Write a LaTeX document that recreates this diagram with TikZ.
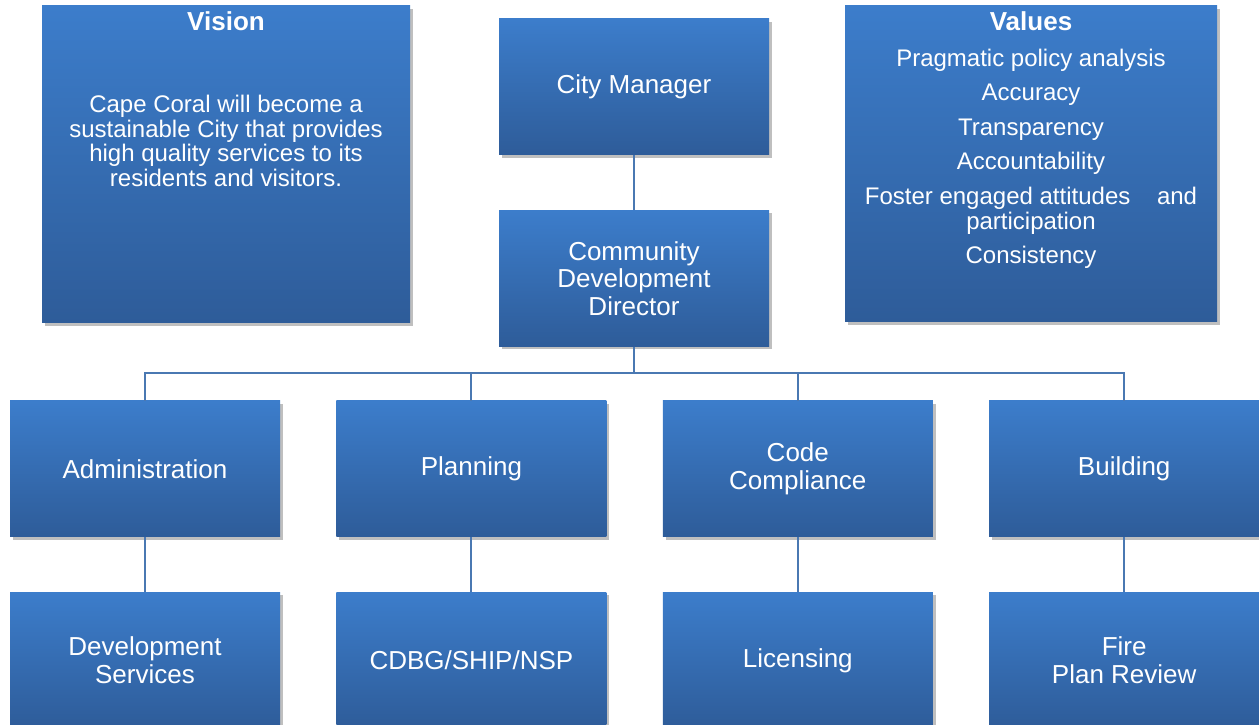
\documentclass[tikz,border=0pt]{standalone}
\usepackage{fontspec}
\setmainfont{Liberation Sans}
\usetikzlibrary{positioning,shadows}
\definecolor{boxtop}{HTML}{3C7DCB}
\definecolor{boxbot}{HTML}{2E5C99}
\definecolor{linkc}{HTML}{4A78B2}

\begin{document}
\begin{tikzpicture}[x=1pt, y=1pt,
  box/.style={rectangle, top color=boxtop, bottom color=boxbot, draw=none, minimum width=270pt, minimum height=136pt, inner sep=2pt, align=center, text=white, font=\fontsize{26}{27.5}\selectfont, drop shadow={shadow xshift=3pt, shadow yshift=-3pt, fill=black, opacity=0.25}},
  panel/.style={box, font=\fontsize{24}{25}\selectfont},
  title/.style={text=white, font=\bfseries\fontsize{26}{28}\selectfont, inner sep=0pt},
  body/.style={text=white, align=center, font=\fontsize{24}{24.7}\selectfont, inner sep=0pt},
  link/.style={draw=linkc, line width=2pt}
]
\useasboundingbox (0,0) rectangle (1259,725);

% side panels
\node[panel, minimum width=368pt, minimum height=317pt] (vision) at (226,560.5) {};
\node[title] (vision-t) at (226,704) {Vision};
\node[body] (vision-b) at (226,584) {Cape Coral will become a\\sustainable City that provides\\high quality services to its\\residents and visitors.};

\node[panel, minimum width=372pt, minimum height=316pt] (values) at (1031,561) {};
\node[title] (values-t) at (1031,704) {Values};
\node[body, font=\fontsize{24}{25}\selectfont] (values-b) at (1031,566) {Pragmatic policy analysis\\[9.5pt]
  Accuracy\\[9.5pt]
  Transparency\\[9.5pt]
  Accountability\\[9.5pt]
  Foster engaged attitudes\hspace{20pt} and\\participation\\[9.5pt]
  Consistency};

% chain of command
\node[box] (cm) at (634,638) {City Manager};
\node[box, below=55pt of cm] (cdd) {Community\\Development\\Director};

\node[box] (adm) at (145,256) {Administration};
\node[box, right=56pt of adm] (pln) {Planning};
\node[box, right=56pt of pln] (code) {Code\\Compliance};
\node[box, right=56pt of code] (bld) {Building};

\node[box, below=55pt of adm] (dev) {Development\\Services};
\node[box, below=55pt of pln] (cdbg) {CDBG/SHIP/NSP};
\node[box, below=55pt of code] (lic) {Licensing};
\node[box, below=55pt of bld] (fire) {Fire\\Plan Review};

\coordinate (bus) at (634,352);

% connectors
\draw[link] (cm) -- (cdd);
\draw[link] (cdd.south) -- (bus);
\foreach \n in {adm,pln,code,bld}
  \draw[link] (bus) -| (\n.north);
\draw[link] (adm) -- (dev);
\draw[link] (pln) -- (cdbg);
\draw[link] (code) -- (lic);
\draw[link] (bld) -- (fire);
\end{tikzpicture}
\end{document}
